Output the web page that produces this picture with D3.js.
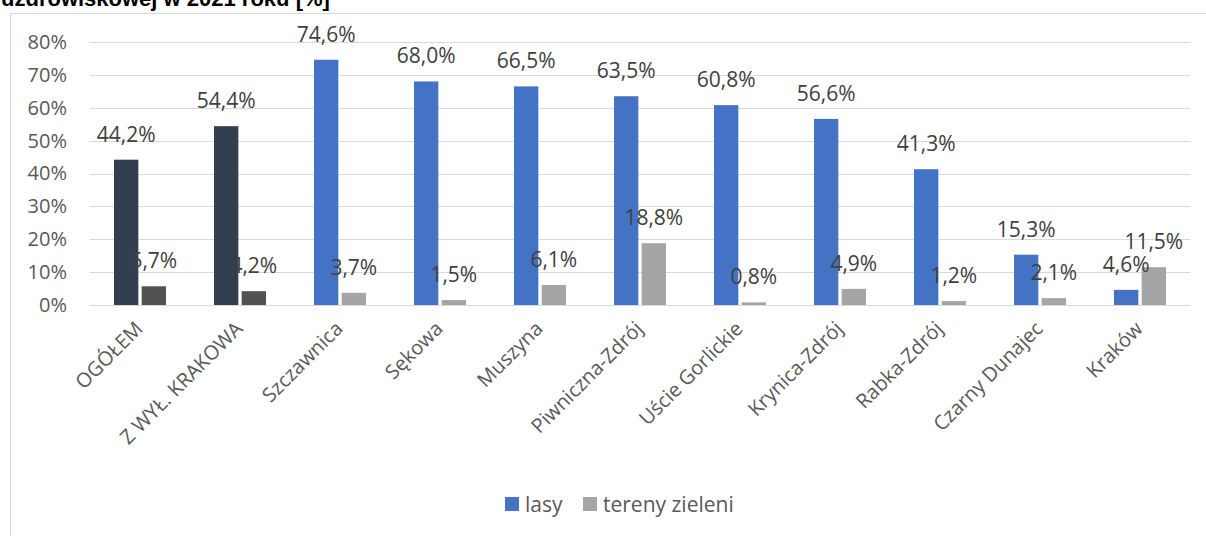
<!DOCTYPE html>
<html>
<head>
<meta charset="utf-8">
<script src="https://cdn.jsdelivr.net/npm/d3@7"></script>
<style>
  body { margin: 0; background: #fff; }
  svg { display: block; font-family: "Open Sans", Lato, sans-serif; }
</style>
</head>
<body>
<svg id="chart"></svg>
<script>
// chart data
const categories = ['OGÓŁEM', 'Z WYŁ. KRAKOWA', 'Szczawnica', 'Sękowa', 'Muszyna',
  'Piwniczna-Zdrój', 'Uście Gorlickie', 'Krynica-Zdrój', 'Rabka-Zdrój', 'Czarny Dunajec', 'Kraków'];
const lasy = [44.2, 54.4, 74.6, 68.0, 66.5, 63.5, 60.8, 56.6, 41.3, 15.3, 4.6];
const zielen = [5.7, 4.2, 3.7, 1.5, 6.1, 18.8, 0.8, 4.9, 1.2, 2.1, 11.5];
const seriesNames = ['lasy', 'tereny zieleni'];
const yTicks = [0, 10, 20, 30, 40, 50, 60, 70, 80];
const titleText = 'uzdrowiskowej w 2021 roku [%]';

{
  const W = 1206, H = 536;
  const svg = d3.select('#chart').attr('width', W).attr('height', H);

  const margin = {top: 42, right: 16, bottom: 231, left: 90},
      width = W - margin.left - margin.right,
      height = H - margin.top - margin.bottom;

  // title, cut off at the top like in the source
  svg.append('text')
    .attr('x', 1).attr('y', 6)
    .attr('font-family', '"Liberation Sans", Arial, sans-serif')
    .attr('font-weight', 'bold')
    .attr('font-size', 22)
    .attr('fill', '#000')
    .text(titleText);

  // chart frame
  svg.append('rect')
    .attr('x', 10.5).attr('y', 13.5)
    .attr('width', W + 10).attr('height', H + 10)
    .attr('fill', 'none')
    .attr('stroke', '#d0d9e8');

  const g = svg.append('g')
    .attr('transform', 'translate(' + margin.left + ',' + margin.top + ')');

  const x = d3.scaleBand().domain(categories).range([0, 1100]);
  const x1 = d3.scaleBand().domain(seriesNames).range([0, 52]).paddingInner(0.12);
  const y = d3.scaleLinear().domain([0, 80]).range([height, 0]);

  // grid
  g.selectAll('.grid').data(yTicks).enter()
    .append('line')
    .attr('class', 'grid')
    .attr('x1', 0).attr('x2', 1100)
    .attr('y1', d => Math.round(y(d)) + 0.5)
    .attr('y2', d => Math.round(y(d)) + 0.5)
    .attr('stroke', '#d9d9d9')
    .attr('stroke-width', 1);

  // y axis labels
  const yAxis = d3.axisLeft(y).tickValues(yTicks).tickFormat(d => d + '%').tickSize(0).tickPadding(23);
  const ya = g.append('g').call(yAxis);
  ya.select('.domain').remove();
  ya.selectAll('text')
    .attr('font-size', 20)
    .attr('font-family', '"Open Sans", sans-serif')
    .attr('fill', '#595959');

  const data = categories.map((c, i) => ({cat: c, i: i, vals: [lasy[i], zielen[i]]}));
  const off = (x.bandwidth() - 52) / 2;

  const colors = (i, s) => {
    if (i < 2) return s === 0 ? '#333f50' : '#525252';
    return s === 0 ? '#4472c4' : '#a5a5a5';
  };

  const groups = g.selectAll('.grp').data(data).enter()
    .append('g')
    .attr('class', 'grp')
    .attr('transform', d => 'translate(' + (x(d.cat) + off) + ',0)');

  groups.selectAll('rect')
    .data(d => d.vals.map((v, s) => ({v: v, s: s, i: d.i})))
    .enter()
    .append('rect')
    .attr('x', d => x1(seriesNames[d.s]))
    .attr('y', d => y(d.v))
    .attr('width', x1.bandwidth())
    .attr('height', d => height - y(d.v))
    .attr('fill', d => colors(d.i, d.s));

  groups.selectAll('.lbl')
    .data(d => d.vals.map((v, s) => ({v: v, s: s, i: d.i})))
    .enter()
    .append('text')
    .attr('class', 'lbl')
    .attr('x', d => x1(seriesNames[d.s]) + x1.bandwidth() / 2)
    .attr('y', d => y(d.v) - 18)
    .attr('text-anchor', 'middle')
    .attr('font-size', 21)
    .attr('fill', '#404040')
    .text(d => d.v.toFixed(1).replace('.', ',') + '%');

  // x axis labels, rotated
  g.selectAll('.xl').data(categories).enter()
    .append('text')
    .attr('class', 'xl')
    .attr('transform', d => 'translate(' + (x(d) + x.bandwidth() / 2 + 4) + ',' + (height + 25) + ') rotate(-45)')
    .attr('text-anchor', 'end')
    .attr('font-size', 20)
    .attr('fill', '#595959')
    .text(d => d);

  // legend
  const legend = svg.append('g').attr('transform', 'translate(505,497)');
  const legItems = [{name: 'lasy', color: '#4472c4', x: 0}, {name: 'tereny zieleni', color: '#a5a5a5', x: 78}];
  const li = legend.selectAll('g').data(legItems).enter()
    .append('g').attr('transform', d => 'translate(' + d.x + ',0)');
  li.append('rect').attr('width', 14).attr('height', 14).attr('fill', d => d.color);
  li.append('text').attr('x', 20).attr('y', 15).attr('font-size', 21).attr('fill', '#595959').text(d => d.name);
}
</script>
</body>
</html>
